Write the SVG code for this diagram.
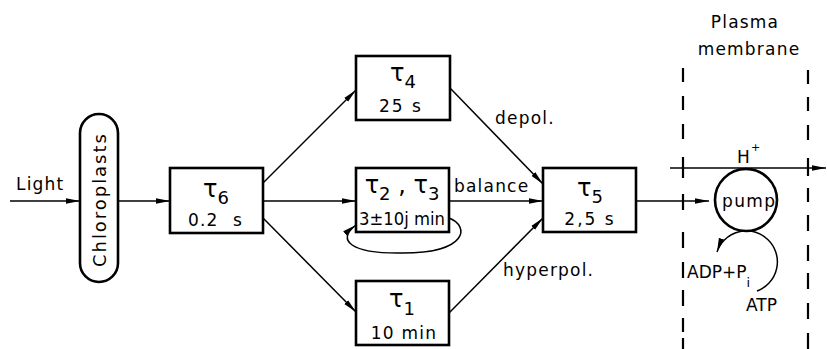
<svg xmlns="http://www.w3.org/2000/svg" width="827" height="349" viewBox="0 0 827 349">
  <style>
    .box { fill: #fff; stroke: #000; stroke-width: 2.6; }
    .wire { fill: none; stroke: #000; stroke-width: 1.5; }
    .mem { fill: none; stroke: #000; stroke-width: 2.2; }
    .t { font-family: "DejaVu Sans", "Liberation Sans", sans-serif; font-size: 17px; fill: #000; letter-spacing: 1.2px; }
    .tau { font-family: "DejaVu Sans", "Liberation Sans", sans-serif; font-size: 24px; fill: #000; }
    .sub { font-size: 18px; }
    .mid { text-anchor: middle; }
  </style>
  <defs>
    <marker id="arr" viewBox="0 0 14 6" refX="14" refY="3" markerWidth="14" markerHeight="6" markerUnits="userSpaceOnUse" orient="auto">
      <path d="M0 0.3 L14 3 L0 5.7 Z" fill="#000"/>
    </marker>
  </defs>

  <!-- input label -->
  <g id="light">
    <text class="t" x="16" y="190">Light</text>
  </g>

  <!-- chloroplasts pill -->
  <g id="chloroplasts">
    <rect class="box" x="80" y="114" width="38" height="168" rx="19" ry="19"/>
    <text class="t mid" transform="translate(105.5 200) rotate(-90)" x="0" y="0" style="font-size:18px" textLength="134" lengthAdjust="spacing">Chloroplasts</text>
  </g>

  <g id="tau6">
    <rect class="box" x="170" y="168" width="93" height="65"/>
    <text class="tau mid" x="216" y="197">τ<tspan class="sub" dy="7">6</tspan></text>
    <text class="t" x="188" y="226">0.2</text>
    <text class="t" x="233" y="226">s</text>
  </g>

  <g id="tau4">
    <rect class="box" x="356" y="56" width="94" height="64"/>
    <text class="tau mid" x="403" y="81">τ<tspan class="sub" dy="7">4</tspan></text>
    <text class="t mid" x="401" y="112" style="letter-spacing:2px">25 s</text>
  </g>

  <g id="tau23">
    <rect class="box" x="356" y="168" width="93" height="64"/>
    <text class="tau mid" x="402" y="193">τ<tspan class="sub" dy="7">2</tspan><tspan dy="-7"> , τ</tspan><tspan class="sub" dy="7">3</tspan></text>
    <text class="t" x="359" y="225" textLength="86" lengthAdjust="spacingAndGlyphs" style="letter-spacing:0">3±10j min</text>
  </g>

  <g id="tau1">
    <rect class="box" x="356" y="281" width="93" height="64"/>
    <text class="tau mid" x="402" y="307">τ<tspan class="sub" dy="8">1</tspan></text>
    <text class="t mid" x="404" y="339">10 min</text>
  </g>

  <g id="tau5">
    <rect class="box" x="543" y="168" width="93" height="64"/>
    <text class="tau mid" x="590" y="196">τ<tspan class="sub" dy="7">5</tspan></text>
    <text class="t mid" x="590" y="225" style="letter-spacing:2px">2,5 s</text>
  </g>

  <g id="pump">
    <circle class="box" cx="746" cy="200" r="31"/>
    <text class="t" x="722" y="207" style="letter-spacing:1.4px">pump</text>
  </g>

  <!-- membrane boundaries and labels -->
  <g id="membrane">
    <text class="t mid" x="745" y="28">Plasma</text>
    <text class="t mid" x="749" y="55">membrane</text>
    <path class="mem" d="M683 68v14 M683 96v14 M683 124v15 M683 157v21 M683 194v16 M683 232v16 M683 262v16 M683 290v16 M683 318v14 M683 338v11"/>
    <path class="mem" d="M808 70v14 M808 97v14 M808 125v15 M808 158v18 M808 188v14 M808 215v16 M808 245v16 M808 273v16 M808 303v16 M808 333v16"/>
  </g>

  <g id="labels">
    <text class="t" x="495" y="124">depol.</text>
    <text class="t" x="454" y="192">balance</text>
    <text class="t" x="503" y="276">hyperpol.</text>
    <text class="t" x="737" y="163" style="letter-spacing:0">H</text>
    <text class="t" x="751" y="151" style="font-size:11px">+</text>
    <text class="t" x="687" y="278" style="letter-spacing:0">ADP+P<tspan dy="9" style="font-size:13px">i</tspan></text>
    <text class="t" x="746" y="311" style="letter-spacing:0">ATP</text>
  </g>

  <g id="connectors">
    <path class="wire" d="M10 201 H80" marker-end="url(#arr)"/>
    <path class="wire" d="M118 201 H170" marker-end="url(#arr)"/>
    <path class="wire" d="M263 183 L356 90" marker-end="url(#arr)"/>
    <path class="wire" d="M263 201 H356" marker-end="url(#arr)"/>
    <path class="wire" d="M263 218 L356 312" marker-end="url(#arr)"/>
    <path class="wire" d="M450 88 L543 184" marker-end="url(#arr)"/>
    <path class="wire" d="M449 201 H543" marker-end="url(#arr)"/>
    <path class="wire" d="M449 313 L543 218" marker-end="url(#arr)"/>
    <path class="wire" d="M636 201 H709" marker-end="url(#arr)"/>
    <path class="wire" d="M670 168 H826" marker-end="url(#arr)"/>
    <path class="wire" d="M449 218 C470 226, 468 253, 403 253 C350 254, 336 240, 356 225" marker-end="url(#arr)"/>
    <path class="wire" d="M757 291 A31 31 0 1 0 717 252" marker-end="url(#arr)"/>
  </g>
</svg>
